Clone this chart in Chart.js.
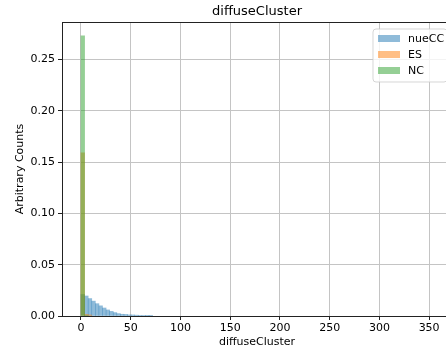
<!DOCTYPE html>
<html>
<head>
<meta charset="utf-8">
<script src="https://cdn.jsdelivr.net/npm/chart.js@4/dist/chart.umd.min.js"></script>
<style>
  html, body { margin: 0; padding: 0; background: #fff; overflow: hidden; }
  #wrap { width: 446px; height: 353px; overflow: hidden; }
  canvas { display: block; }
</style>
</head>
<body>
<div id="wrap"><canvas id="c" width="456" height="353"></canvas></div>
<script>
// Histogram bins: fixed width, starting at zero
const BIN_START = 0;
const BIN_WIDTH = 3.6;

// Normalised counts per bin for each sample
const NUECC = [0.021, 0.0195, 0.017, 0.0145, 0.012, 0.0099, 0.0078, 0.0059, 0.0045, 0.0033,
               0.0023, 0.0017, 0.0015, 0.0011, 0.0010, 0.0008, 0.0006, 0.0004, 0.0003, 0.0002];
const ES = [0.159, 0.0016, 0.0010];
const NC = [0.273, 0.0005];

const SERIES_NAMES = ['nueCC', 'ES', 'NC'];
const SERIES_COLORS = ['rgba(31,119,180,0.5)', 'rgba(255,127,14,0.5)', 'rgba(44,160,44,0.5)'];

const X_TICKS = [0, 50, 100, 150, 200, 250, 300, 350];
const Y_TICKS = [0, 0.05, 0.10, 0.15, 0.20, 0.25];

const TITLE = 'diffuseCluster';
const X_LABEL = 'diffuseCluster';
const Y_LABEL = 'Arbitrary Counts';

const FONT = '"DejaVu Sans", sans-serif';

function toPoints(counts) {
  return counts.map((v, i) => ({ x: BIN_START + BIN_WIDTH * (i + 0.5), y: v }));
}

const seriesData = [NUECC, ES, NC];
const datasets = seriesData.map((counts, k) => ({
  label: SERIES_NAMES[k],
  data: toPoints(counts),
  backgroundColor: SERIES_COLORS[k],
  borderWidth: 0,
  barPercentage: 1,
  categoryPercentage: 1,
  grouped: false,
  order: 2 - k   // later samples drawn on top
}));

// Title, axis labels, top spine and the legend box
const decorations = {
  id: 'decorations',
  afterDraw(chart) {
    const ctx = chart.ctx;
    const a = chart.chartArea;
    ctx.save();

    // top spine
    ctx.strokeStyle = '#222';
    ctx.lineWidth = 1;
    ctx.beginPath();
    ctx.moveTo(a.left, Math.round(a.top) + 0.5);
    ctx.lineTo(a.right, Math.round(a.top) + 0.5);
    ctx.moveTo(Math.round(a.right) - 0.5, a.top);
    ctx.lineTo(Math.round(a.right) - 0.5, a.bottom);
    ctx.stroke();

    ctx.fillStyle = '#000';
    ctx.textAlign = 'center';
    ctx.textBaseline = 'middle';
    ctx.font = '13px ' + FONT;
    ctx.fillText(TITLE, (a.left + a.right) / 2, 12);

    ctx.font = '11px ' + FONT;
    ctx.fillText(X_LABEL, (a.left + a.right) / 2, 342);

    ctx.save();
    ctx.translate(20, (a.top + a.bottom) / 2);
    ctx.rotate(-Math.PI / 2);
    ctx.fillText(Y_LABEL, 0, 0);
    ctx.restore();

    // legend
    const bx = 373, by = 29, bw = 74, bh = 53, r = 3;
    ctx.beginPath();
    ctx.moveTo(bx + r, by);
    ctx.lineTo(bx + bw - r, by);
    ctx.arcTo(bx + bw, by, bx + bw, by + r, r);
    ctx.lineTo(bx + bw, by + bh - r);
    ctx.arcTo(bx + bw, by + bh, bx + bw - r, by + bh, r);
    ctx.lineTo(bx + r, by + bh);
    ctx.arcTo(bx, by + bh, bx, by + bh - r, r);
    ctx.lineTo(bx, by + r);
    ctx.arcTo(bx, by, bx + r, by, r);
    ctx.closePath();
    ctx.fillStyle = 'rgba(255,255,255,0.8)';
    ctx.fill();
    ctx.strokeStyle = 'rgba(204,204,204,0.8)';
    ctx.lineWidth = 1;
    ctx.stroke();

    ctx.textAlign = 'left';
    chart.data.datasets.forEach((ds, i) => {
      const cy = 38.5 + i * 16;
      ctx.fillStyle = ds.backgroundColor;
      ctx.fillRect(378, cy - 3.5, 22, 7);
      ctx.fillStyle = '#000';
      ctx.fillText(ds.label, 408, cy + 0.5);
    });

    ctx.restore();
  }
};

new Chart(document.getElementById('c'), {
  type: 'bar',
  data: { datasets },
  options: {
    responsive: false,
    animation: false,
    devicePixelRatio: 1,
    layout: { padding: { left: 0, top: 22, right: 4, bottom: 0 } },
    plugins: {
      legend: { display: false },
      title: { display: false },
      tooltip: { enabled: false }
    },
    scales: {
      x: {
        type: 'linear',
        min: -19.1,
        max: 373,
        offset: false,
        z: 1,
        afterBuildTicks: s => { s.ticks = X_TICKS.map(v => ({ value: v })); },
        afterFit: s => { s.height = 37; },
        grid: { color: '#c4c4c4', lineWidth: 1, tickLength: 4, tickColor: '#222', offset: false },
        border: { color: '#222', width: 1 },
        ticks: { color: '#000', font: { family: FONT, size: 11 }, padding: 2, maxRotation: 0,
                 callback: v => String(v) }
      },
      y: {
        type: 'linear',
        min: 0,
        max: 0.2866,
        z: 1,
        afterBuildTicks: s => { s.ticks = Y_TICKS.map(v => ({ value: v })); },
        afterFit: s => { s.width = 62; },
        grid: { color: '#c4c4c4', lineWidth: 1, tickLength: 4, tickColor: '#222' },
        border: { color: '#222', width: 1 },
        ticks: { color: '#000', font: { family: FONT, size: 11 }, padding: 3,
                 callback: v => Number(v).toFixed(2) }
      }
    }
  },
  plugins: [decorations]
});
</script>
</body>
</html>
